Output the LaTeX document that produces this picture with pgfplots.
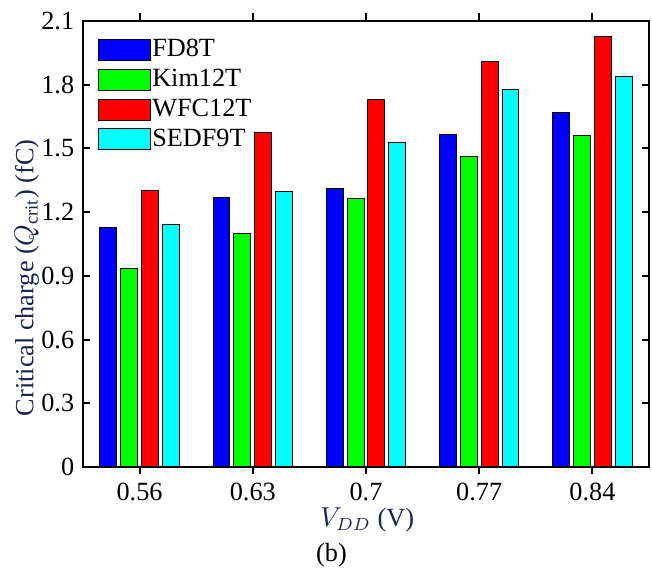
\documentclass[border=0pt]{standalone}
\usepackage{pgfplots}
\pgfplotsset{compat=1.18}
\usepackage{fontspec}
\setmainfont{Liberation Serif}
\definecolor{lab}{RGB}{25,35,75}
\definecolor{pcyan}{RGB}{0,255,255}
\definecolor{pgreen}{RGB}{0,255,0}
\definecolor{pblue}{RGB}{0,0,255}
\definecolor{pred}{RGB}{255,0,0}
\begin{document}
\begin{tikzpicture}
\begin{axis}[
  scale only axis,
  width=226.4pt, height=178.4pt,
  font=\fontsize{10.5}{12.5}\selectfont,
  /pgf/number format/assume math mode=true,
  xmin=-0.5, xmax=4.5,
  ymin=0, ymax=2.1,
  xtick={0,1,2,3,4},
  xticklabels={0.56,0.63,0.7,0.77,0.84},
  ytick={0,0.3,0.6,0.9,1.2,1.5,1.8,2.1},
  yticklabels={0,0.3,0.6,0.9,1.2,1.5,1.8,2.1},
  tick align=inside,
  major tick length=3pt,
  axis line style={line width=0.9pt},
  tick style={line width=0.8pt,black},
  ybar,
  bar width=0.149,
  clip=false,
  xlabel={\textcolor{lab}{$V_{DD}$ (V)}},
  ylabel={\textcolor{lab}{Critical charge ($Q_{\mathrm{crit}}$) (fC)}},
  xlabel style={at={(rel axis cs:0.502,-0.118)},anchor=center},
  ylabel style={at={(rel axis cs:-0.099,0.424)},anchor=center},
  legend style={draw=none,fill=none,at={(rel axis cs:0.012,0.975)},anchor=north west,
    font=\fontsize{10.5}{11}\selectfont,row sep=2.3pt,
    nodes={inner sep=0.6pt},
    /tikz/every even column/.append style={column sep=0pt}},
  legend cell align=left,
  legend image code/.code={\draw[#1,draw=black,line width=0.4pt] (0pt,-4.2pt) rectangle (20.8pt,4.2pt);},
]
\addplot[fill=pblue,draw=black,line width=0.4pt,bar shift=-0.276] coordinates {(0,1.127) (1,1.270) (2,1.312) (3,1.565) (4,1.668)};
\addplot[fill=pgreen,draw=black,line width=0.4pt,bar shift=-0.092] coordinates {(0,0.934) (1,1.100) (2,1.263) (3,1.463) (4,1.560)};
\addplot[fill=pred,draw=black,line width=0.4pt,bar shift=0.092] coordinates {(0,1.304) (1,1.577) (2,1.728) (3,1.910) (4,2.029)};
\addplot[fill=pcyan,draw=black,line width=0.4pt,bar shift=0.276] coordinates {(0,1.143) (1,1.298) (2,1.529) (3,1.776) (4,1.839)};
\legend{FD8T,Kim12T,WFC12T,SEDF9T}
\node at (rel axis cs:0.439,-0.198) {(b)};
\path (rel axis cs:-0.1466,-0.2422) rectangle (rel axis cs:1.0053,1.047);
\end{axis}
\end{tikzpicture}
\end{document}
